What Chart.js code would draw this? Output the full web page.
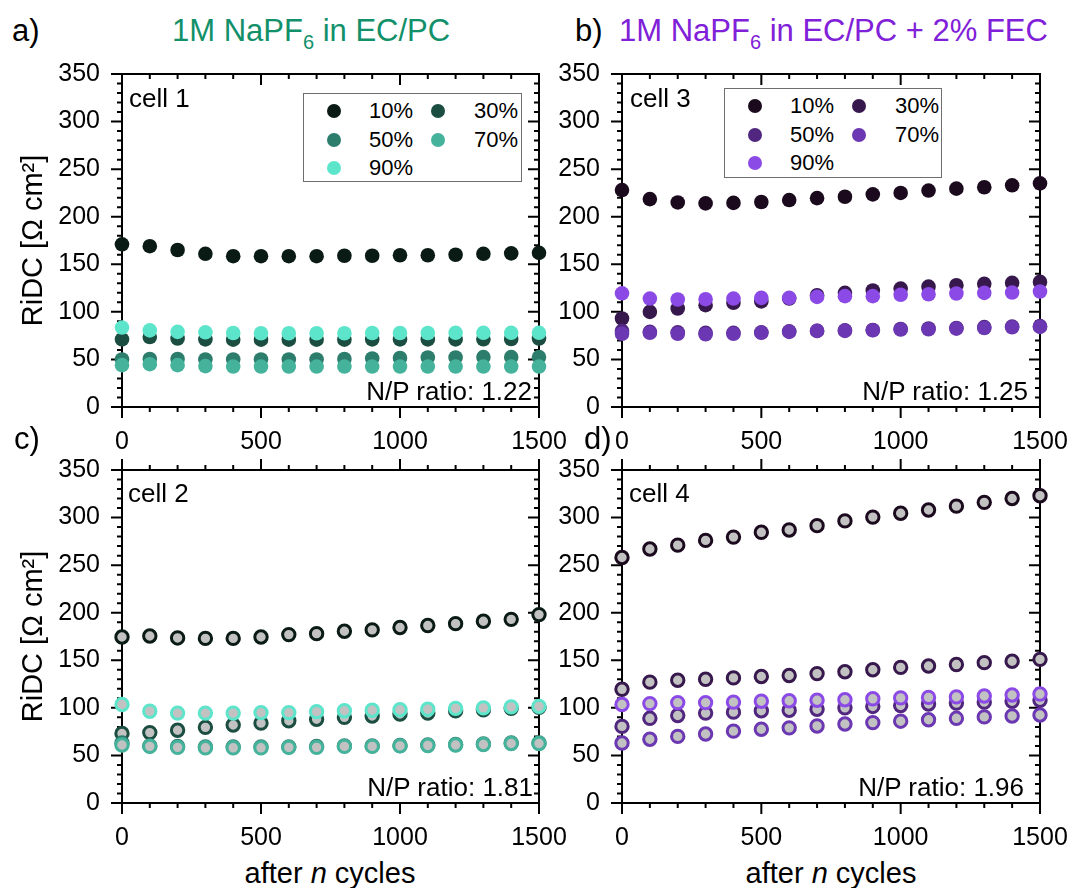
<!DOCTYPE html>
<html>
<head>
<meta charset="utf-8">
<script src="https://cdn.jsdelivr.net/npm/chart.js@4/dist/chart.umd.min.js"></script>
<style>
  html, body { margin: 0; padding: 0; background: #fff; }
  #page { position: relative; width: 1069px; height: 888px; overflow: hidden;
          font-family: "Liberation Sans", Arial, sans-serif; color: #000; }
  #page canvas { position: absolute; }
  .txt { position: absolute; white-space: nowrap; line-height: 1; z-index: 2; }
  .big { font-size: 31px; }
  .axt { font-size: 29px; }
  .mid { font-size: 26px; }
  .sub { font-size: 20px; position: relative; top: 8px; }
  .legend { position: absolute; border: 1.5px solid #6e6e6e; background: #fff; box-sizing: border-box; z-index: 2; }
  .legend .dot { position: absolute; width: 14px; height: 14px; border-radius: 50%; }
  .legend .lbl { position: absolute; font-size: 22px; line-height: 1; }
</style>
</head>
<body>
<div id="page">
  <div class="txt big" style="left:12px;top:15px">a)</div>
  <div class="txt big" style="left:172px;top:15px;color:#11906a">1M NaPF<span class="sub">6</span> in EC/PC</div>
  <div class="txt big" style="left:575px;top:15px">b)</div>
  <div class="txt big" style="left:619px;top:15px;color:#8020d8">1M NaPF<span class="sub">6</span> in EC/PC + 2% FEC</div>
  <div class="txt big" style="left:14px;top:423px">c)</div>
  <div class="txt big" style="left:584px;top:423px">d)</div>

  <div class="txt mid" style="left:129px;top:85px">cell 1</div>
  <div class="txt mid" style="left:630px;top:85px">cell 3</div>
  <div class="txt mid" style="left:128px;top:480px">cell 2</div>
  <div class="txt mid" style="left:629px;top:480px">cell 4</div>

  <div class="txt mid" style="right:537px;top:378px">N/P ratio: 1.22</div>
  <div class="txt mid" style="right:41px;top:378px">N/P ratio: 1.25</div>
  <div class="txt mid" style="right:536px;top:774px">N/P ratio: 1.81</div>
  <div class="txt mid" style="right:45px;top:774px">N/P ratio: 1.96</div>

  <div class="txt axt" style="left:180px;width:300px;text-align:center;top:859px">after <i>n</i> cycles</div>
  <div class="txt axt" style="left:681px;width:300px;text-align:center;top:859px">after <i>n</i> cycles</div>

  <div class="legend" id="legA" style="left:303px;top:93px;width:219px;height:89px"></div>
  <div class="legend" id="legB" style="left:724px;top:88px;width:218px;height:90px"></div>
</div>
<script>
// cycle numbers on the x axis
const cycles = [0, 100, 200, 300, 400, 500, 600, 700, 800, 900, 1000, 1100, 1200, 1300, 1400, 1500];
const levels = ['10%', '30%', '50%', '70%', '90%'];
const xTicks = [0, 500, 1000, 1500];
const yTicks = [0, 50, 100, 150, 200, 250, 300, 350];

// cell 1 (EC/PC)
const c1_10 = [171, 169, 165, 161, 158.5, 158.5, 158.5, 158.5, 159, 159, 159.5, 159.5, 160, 161, 161.5, 162];
const c1_30 = [71, 73.5, 72, 71, 70.8, 70.8, 70.8, 70.8, 70.8, 71, 71, 71, 71, 71.2, 71.5, 72];
const c1_50 = [50, 50.5, 50.5, 50, 50, 50, 50, 50, 50.5, 51, 51.5, 52, 52, 52.5, 52.5, 52.5];
const c1_70 = [44, 45, 44, 43, 42.5, 42.5, 42.5, 42.5, 42.5, 42.5, 42.5, 42.5, 42.5, 42.5, 42.5, 42.5];
const c1_90 = [83.5, 80.5, 79, 78.5, 77.8, 77.5, 77.5, 77.5, 77.5, 77.8, 77.8, 77.8, 78, 78, 78, 78];

// cell 3 (EC/PC + FEC)
const c3_10 = [228, 218.5, 215, 214, 214.5, 215.5, 217.5, 219.5, 221, 223.5, 225, 227.5, 229.5, 231, 233, 235];
const c3_30 = [93, 100, 103.5, 107, 109.5, 111, 114, 117.5, 120, 122.5, 124.5, 126.5, 128, 129.5, 130.5, 131.5];
const c3_50 = [80, 79, 78.5, 78, 78, 78.5, 79.5, 80, 80.5, 81, 82, 82.5, 83, 84, 84.5, 85];
const c3_70 = [77, 78, 77, 76.5, 77, 78, 79, 80, 80, 80.7, 81.4, 81.7, 82.4, 83, 83.8, 84.2];
const c3_90 = [119.5, 114, 113, 113.3, 114, 114.7, 114.7, 115.7, 116.5, 116.5, 118, 118.5, 119.3, 120, 120.3, 121.4];

// cell 2 (EC/PC)
const c2_10 = [174.5, 175.5, 173.5, 173, 173, 174.5, 177, 178, 180.5, 182, 184.5, 186.5, 188.5, 191, 193, 198];
const c2_30 = [73, 74, 76.5, 79.5, 82, 84, 86.5, 88, 90, 91.5, 93.5, 94.5, 97, 98, 99.5, 100.5];
const c2_50 = [63, 60, 59.5, 59, 59, 59, 59, 59.5, 60, 60, 60.5, 61, 61.5, 62, 63, 63];
const c2_70 = [61, 59.5, 58.5, 58, 58, 58, 58.5, 58.5, 59.5, 59.5, 60, 60.5, 61, 61.5, 62.5, 62.5];
const c2_90 = [103.5, 96.5, 94.5, 94.5, 94.5, 95, 95, 96, 97, 97.5, 98, 98.5, 99.5, 100, 101, 101.5];

// cell 4 (EC/PC + FEC)
const c4_10 = [258, 267, 271, 276, 279.5, 284.5, 287, 291.5, 296.5, 300.5, 304.5, 308, 312, 316, 320, 323];
const c4_30 = [119.5, 127, 129, 130, 131.5, 133, 134, 136, 138, 140, 142.5, 144, 145.5, 147.5, 149, 151];
const c4_50 = [80.5, 89, 92, 94.5, 95.5, 97, 97.5, 98.5, 100, 101.5, 102.5, 104, 105, 106, 107, 108];
const c4_70 = [63, 67, 70, 72.5, 75.5, 77.5, 79, 81, 83, 84.5, 86, 87.5, 89, 90.5, 91.5, 92.5];
const c4_90 = [103.5, 104.5, 105.5, 105.5, 106, 107, 107.5, 108, 108.5, 109.5, 110.5, 111, 111.5, 112.5, 113.5, 114.5];

const greens = ['#0a1a15', '#1b4d41', '#2d7d6d', '#45b39c', '#5ce5cb'];
const purples = ['#1b0a1e', '#37184d', '#50267f', '#6b37b2', '#8b4ae6'];

Chart.defaults.font.family = '"Liberation Sans", Arial, sans-serif';
Chart.defaults.color = '#000';

// box around the plot with major/minor ticks on all four sides
const frameTicks = {
  id: 'frameTicks',
  beforeDatasetsDraw(chart, args, opts) {
    const { ctx, chartArea: a, scales: { x, y } } = chart;
    ctx.save();
    ctx.strokeStyle = '#000';
    ctx.lineWidth = 2;
    ctx.beginPath();
    for (let v = x.min; v <= x.max; v += 100) {
      const px = x.getPixelForValue(v);
      const len = v % 500 === 0 ? 11 : 5;
      ctx.moveTo(px, a.bottom); ctx.lineTo(px, a.bottom + len);
      const dir = opts.topOut ? -1 : 1;
      ctx.moveTo(px, a.top); ctx.lineTo(px, a.top + dir * len);
    }
    for (let v = y.min; v <= y.max; v += 10) {
      const py = y.getPixelForValue(v);
      const len = v % 50 === 0 ? 11 : 5;
      ctx.moveTo(a.left, py); ctx.lineTo(a.left - len, py);
      ctx.moveTo(a.right, py); ctx.lineTo(a.right - len, py);
    }
    ctx.stroke();
    ctx.strokeRect(a.left, a.top, a.right - a.left, a.bottom - a.top);
    ctx.restore();
  }
};

const page = document.getElementById('page');

function makePanel(area, series, colors, hollow, topOut, yTitle) {
  const cv = document.createElement('canvas');
  const left = area.l - 122, top = area.t - 20;
  const w = area.r - left + 30, h = area.b - top + 50;
  cv.width = w; cv.height = h;
  cv.style.left = left + 'px'; cv.style.top = top + 'px';
  cv.style.width = w + 'px'; cv.style.height = h + 'px';
  page.insertBefore(cv, page.firstChild);

  new Chart(cv, {
    type: 'scatter',
    data: {
      datasets: series.map((vals, i) => ({
        label: levels[i],
        data: cycles.map((c, j) => ({ x: c, y: vals[j] })),
        pointBackgroundColor: hollow ? '#c2c2c2' : colors[i],
        pointBorderColor: colors[i],
        pointBorderWidth: hollow ? 3 : 0,
        pointRadius: hollow ? 6.2 : 7.3,
        order: levels.length - i,
        clip: false
      }))
    },
    options: {
      responsive: false,
      animation: false,
      events: [],
      layout: { padding: { top: 20, right: 30, left: 0, bottom: 0 } },
      plugins: { legend: { display: false }, tooltip: { enabled: false }, frameTicks: { topOut } },
      scales: {
        x: {
          type: 'linear', position: 'bottom', min: 0, max: 1500,
          afterBuildTicks: s => { s.ticks = xTicks.map(v => ({ value: v })); },
          ticks: { font: { size: 25 }, padding: 20, maxRotation: 0, autoSkip: false, callback: v => String(v) },
          grid: { display: false, drawTicks: false },
          border: { display: false },
          afterFit: s => { s.height = 50; s.paddingLeft = 0; s.paddingRight = 0; }
        },
        y: {
          type: 'linear', position: 'left', min: 0, max: 350,
          afterBuildTicks: s => { s.ticks = yTicks.map(v => ({ value: v })); },
          ticks: { font: { size: 25 }, padding: 22, autoSkip: false, callback: v => String(v) },
          grid: { display: false, drawTicks: false },
          border: { display: false },
          title: { display: yTitle, text: 'RiDC [Ω cm²]', font: { size: 29 }, padding: { top: 17, bottom: 0 } },
          afterFit: s => { s.width = 122; s.paddingTop = 0; s.paddingBottom = 0; }
        }
      }
    },
    plugins: [frameTicks]
  });
}

makePanel({ l: 122, t: 74, r: 539, b: 407 }, [c1_10, c1_30, c1_50, c1_70, c1_90], greens, false, false, true);
makePanel({ l: 622, t: 74, r: 1040, b: 407 }, [c3_10, c3_30, c3_50, c3_70, c3_90], purples, false, false, false);
makePanel({ l: 122, t: 470, r: 539, b: 803 }, [c2_10, c2_30, c2_50, c2_70, c2_90], greens, true, true, true);
makePanel({ l: 622, t: 470, r: 1040, b: 803 }, [c4_10, c4_30, c4_50, c4_70, c4_90], purples, true, true, false);

// legends, two columns filled row by row
function makeLegend(id, colors) {
  const box = document.getElementById(id);
  levels.forEach((lv, i) => {
    const col = i % 2, row = Math.floor(i / 2);
    const cy = 17 + row * 28.5;
    const dot = document.createElement('span');
    dot.className = 'dot';
    dot.style.background = colors[i];
    dot.style.left = (30 + col * 104 - 7) + 'px';
    dot.style.top = (cy - 7) + 'px';
    const lbl = document.createElement('span');
    lbl.className = 'lbl';
    lbl.textContent = lv;
    lbl.style.left = (65 + col * 105) + 'px';
    lbl.style.top = (cy - 11) + 'px';
    box.appendChild(dot);
    box.appendChild(lbl);
  });
}
makeLegend('legA', greens);
makeLegend('legB', purples);
</script>
</body>
</html>
